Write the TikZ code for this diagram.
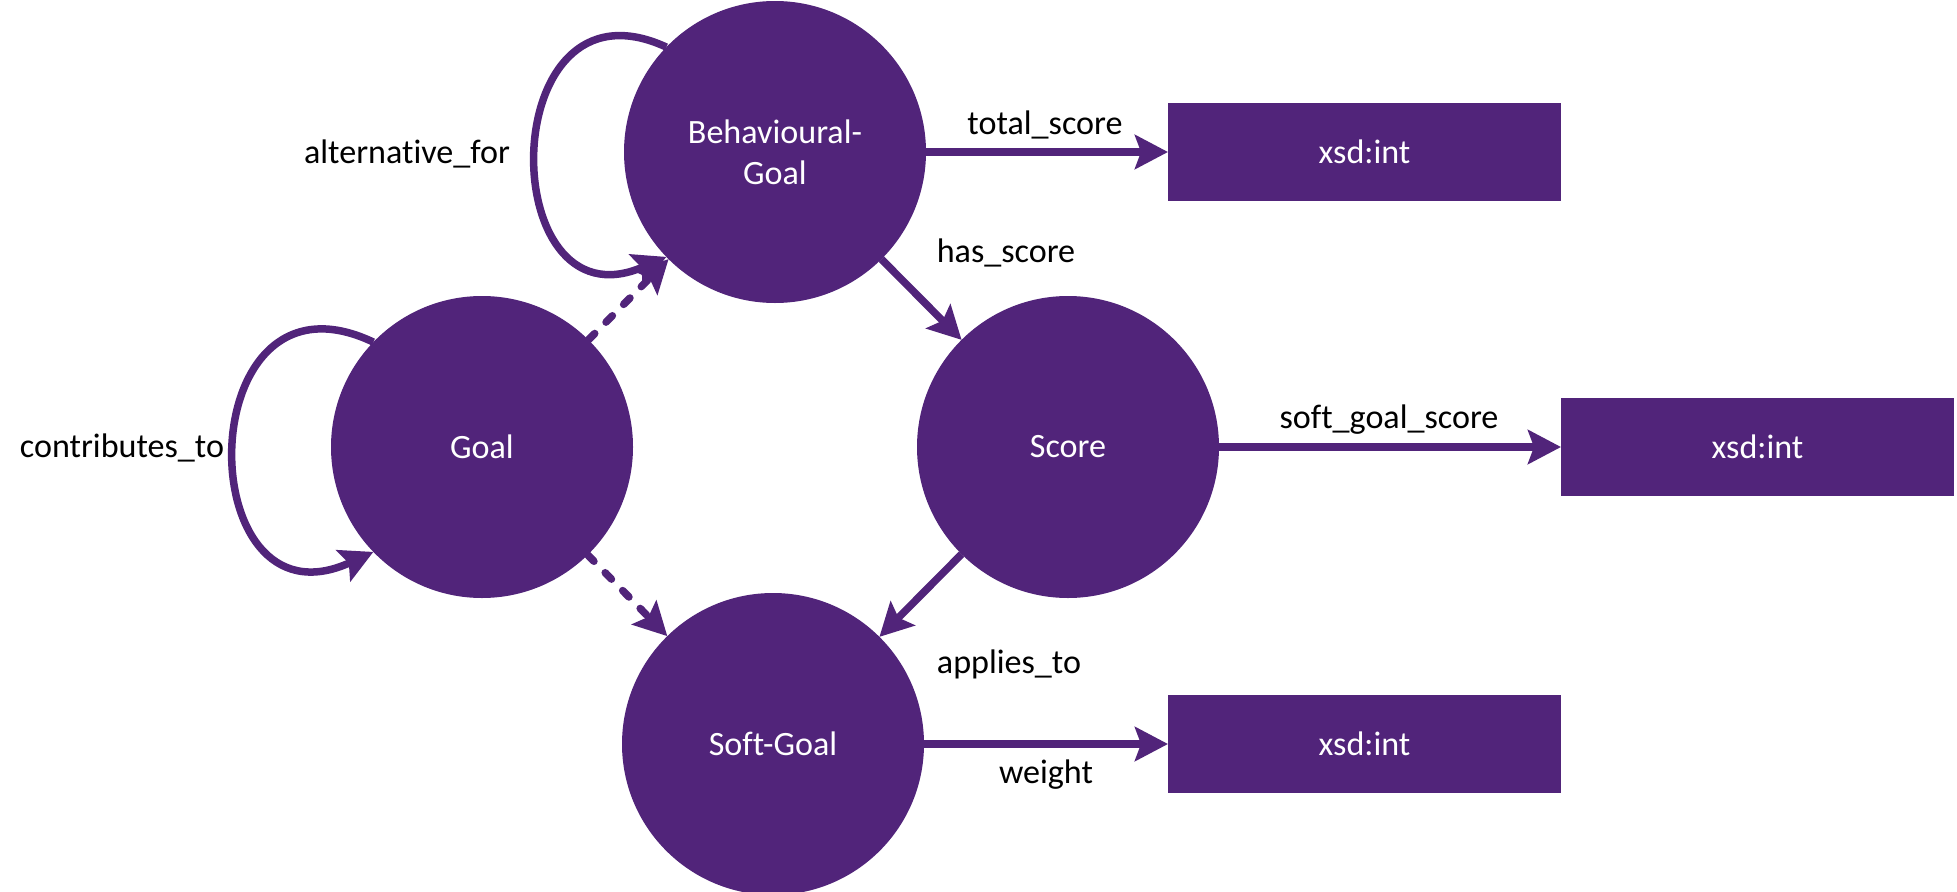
\documentclass[tikz,border=0pt]{standalone}
\usepackage{fontspec}
\setmainfont[Ligatures=NoCommon]{Carlito}
\usepackage{tikz}
\usetikzlibrary{arrows.meta, positioning}

\definecolor{uqpurple}{RGB}{81,36,122}

\begin{document}
\begin{tikzpicture}[
    on grid,
    font=\fontsize{9.7}{11.7}\selectfont,
    concept/.style={circle, fill=uqpurple, minimum size=3.02cm, inner sep=0pt, outer sep=0pt, align=center, text=white},
    datatype/.style={rectangle, fill=uqpurple, minimum width=3.93cm, minimum height=0.98cm, inner sep=0pt, outer sep=0pt, text=white},
    arrow/.style={-{Stealth[length=3.3mm, width=3.4mm, inset=0.6mm]}, line width=0.075cm, draw=uqpurple},
    subarrow/.style={arrow, dash pattern=on 0.09cm off 0.16cm, line cap=round},
    label/.style={anchor=base, inner sep=0pt},
]

\useasboundingbox (0,0) rectangle (19.57,-8.92);

\node[concept] (goal) at (4.82,-4.47) {Goal};
\node[concept, above right=2.95cm and 2.93cm of goal] (bgoal) {Behavioural-\\Goal};
\node[concept, below right=2.95cm and 2.93cm of bgoal] (score) {Score};
\node[concept, below left=2.97cm and 2.95cm of score] (sgoal) {Soft-Goal};

\node[datatype, right=5.895cm of bgoal] (total) {xsd:int};
\node[datatype, right=6.895cm of score] (sgscore) {xsd:int};
\node[datatype, right=5.915cm of sgoal] (weight) {xsd:int};

\draw[arrow] (bgoal.136) .. controls +(-1.73,0.8) and +(-1.73,-0.75) .. (bgoal.224);
\draw[arrow] (goal.136) .. controls +(-1.85,0.88) and +(-1.85,-0.85) .. (goal.224);
\draw[subarrow] (goal) -- (bgoal);
\draw[subarrow] (goal) -- (sgoal);
\draw[arrow] (bgoal) -- (score);
\draw[arrow] (score) -- (sgoal);
\draw[arrow] (bgoal) -- (total);
\draw[arrow] (score) -- (sgscore);
\draw[arrow] (sgoal) -- (weight);

\node[label] (altlbl) at (4.07,-1.63) {alternative\_for};
\node[label] (contlbl) at (1.22,-4.57) {contributes\_to};
\node[label] (totallbl) at (10.45,-1.34) {total\_score};
\node[label] (haslbl) at (10.06,-2.62) {has\_score};
\node[label] (sglbl) at (13.89,-4.28) {soft\_goal\_score};
\node[label] (applbl) at (10.09,-6.73) {applies\_to};
\node[label] (weightlbl) at (10.46,-7.83) {weight};

\end{tikzpicture}
\end{document}
